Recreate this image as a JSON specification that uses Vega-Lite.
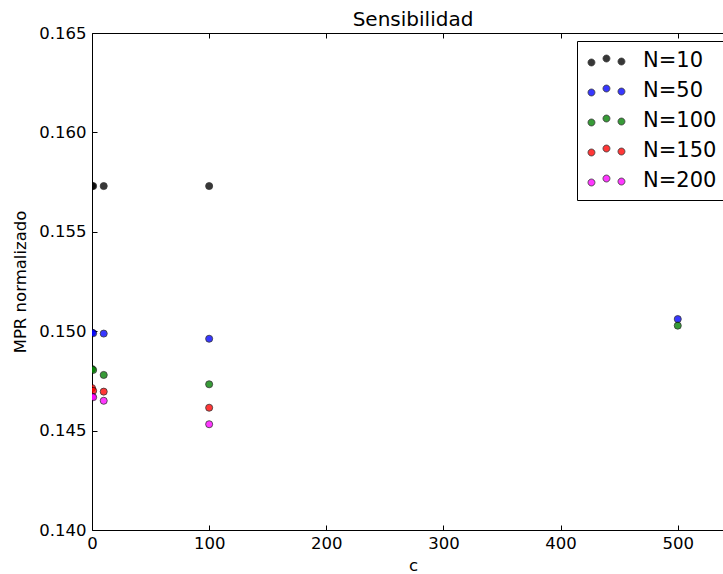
{
  "$schema": "https://vega.github.io/schema/vega-lite/v6.json",
  "autosize": {"type": "none"},
  "padding": {"left": 92, "top": 33, "right": 0, "bottom": 44},
  "width": 642,
  "height": 497,
  "background": "white",
  "title": {"text": "Sensibilidad", "font": "DejaVu Sans", "fontSize": 20, "fontWeight": "normal", "color": "black", "anchor": "middle", "offset": -5},
  "config": {
    "view": {"stroke": "black", "strokeWidth": 1},
    "axis": {"grid": false, "domain": false, "labelFont": "DejaVu Sans", "labelFontSize": 16.5, "labelColor": "black", "titleFont": "DejaVu Sans", "titleFontSize": 16.5, "titleFontWeight": "normal", "titleColor": "black", "tickColor": "black", "tickSize": -5, "tickWidth": 1, "labelFlush": false}
  },
  "data": {"values": [
    {"c": 0, "v": 0.1573, "N": "N=10"},
    {"c": 1, "v": 0.1573, "N": "N=10"},
    {"c": 10, "v": 0.1573, "N": "N=10"},
    {"c": 100, "v": 0.1573, "N": "N=10"},
    {"c": 0, "v": 0.14993, "N": "N=50"},
    {"c": 1, "v": 0.1499, "N": "N=50"},
    {"c": 10, "v": 0.14988, "N": "N=50"},
    {"c": 100, "v": 0.14962, "N": "N=50"},
    {"c": 500, "v": 0.15061, "N": "N=50"},
    {"c": 0, "v": 0.14810, "N": "N=100"},
    {"c": 1, "v": 0.14805, "N": "N=100"},
    {"c": 10, "v": 0.14780, "N": "N=100"},
    {"c": 100, "v": 0.14733, "N": "N=100"},
    {"c": 500, "v": 0.15028, "N": "N=100"},
    {"c": 0, "v": 0.14714, "N": "N=150"},
    {"c": 1, "v": 0.14700, "N": "N=150"},
    {"c": 10, "v": 0.14696, "N": "N=150"},
    {"c": 100, "v": 0.14615, "N": "N=150"},
    {"c": 0, "v": 0.14671, "N": "N=200"},
    {"c": 1, "v": 0.14668, "N": "N=200"},
    {"c": 10, "v": 0.14650, "N": "N=200"},
    {"c": 100, "v": 0.14532, "N": "N=200"}
  ]},
  "layer": [
    {
      "mark": {"type": "point", "filled": true, "clip": true, "size": 50, "stroke": "black", "strokeWidth": 0.8, "opacity": 0.78},
      "encoding": {
        "x": {"field": "c", "type": "quantitative", "scale": {"domain": [0, 548], "nice": false, "zero": false},
              "axis": {"orient": "bottom", "values": [0, 100, 200, 300, 400, 500], "title": "c", "labelPadding": 10, "titlePadding": 6}},
        "y": {"field": "v", "type": "quantitative", "scale": {"domain": [0.14, 0.165], "nice": false, "zero": false},
              "axis": {"values": [0.14, 0.145, 0.15, 0.155, 0.16, 0.165], "format": ".3f", "title": "MPR normalizado", "labelPadding": 11, "titlePadding": 10}},
        "color": {"field": "N", "type": "nominal",
                  "scale": {"domain": ["N=10", "N=50", "N=100", "N=150", "N=200"], "range": ["#000000", "#0000ff", "#008000", "#ff0000", "#ff00ff"]},
                  "legend": {"orient": "none", "legendX": 485, "legendY": 8, "title": null, "padding": 9, "strokeColor": "black", "fillColor": "white",
                             "symbolType": "M -1.42 0.33 A 0.58 0.58 0 1 0 -0.26 0.33 A 0.58 0.58 0 1 0 -1.42 0.33 Z M 1.08 -0.33 A 0.58 0.58 0 1 0 2.24 -0.33 A 0.58 0.58 0 1 0 1.08 -0.33 Z M 3.58 0.17 A 0.58 0.58 0 1 0 4.74 0.17 A 0.58 0.58 0 1 0 3.58 0.17 Z",
                             "symbolSize": 144, "symbolStrokeColor": "black", "symbolStrokeWidth": 0.8, "symbolOpacity": 0.78,
                             "labelFont": "DejaVu Sans", "labelFontSize": 21, "labelColor": "black", "labelOffset": 36, "rowPadding": 8}}
      }
    },
    {
      "mark": {"type": "point", "opacity": 0},
      "encoding": {
        "x": {"field": "c", "type": "quantitative", "axis": {"orient": "top", "values": [0, 100, 200, 300, 400, 500], "labels": false, "title": null}},
        "y": {"field": "v", "type": "quantitative", "axis": {"orient": "right", "values": [0.14, 0.145, 0.15, 0.155, 0.16, 0.165], "labels": false, "title": null}}
      }
    }
  ],
  "resolve": {"axis": {"x": "independent", "y": "independent"}}
}
